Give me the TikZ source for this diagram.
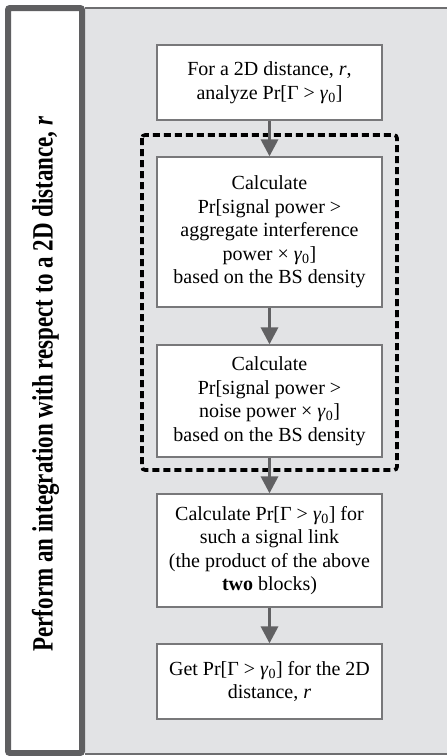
\documentclass[tikz,border=0pt]{standalone}
\usepackage{fontspec}
\setmainfont{Liberation Serif}
\usetikzlibrary{arrows.meta}
\definecolor{panelgray}{RGB}{226,227,229}
\definecolor{framegray}{RGB}{110,110,112}
\definecolor{darkframe}{RGB}{95,95,97}
\definecolor{boxgray}{RGB}{120,120,122}
\definecolor{arrowgray}{RGB}{97,97,99}
\newcommand{\gz}{\textit{γ}\textsubscript{0}}
\begin{document}
\begin{tikzpicture}[x=1pt,y=-1pt,
  stepbox/.style={draw=boxgray, line width=1.3pt, fill=white, minimum width=225pt,
    align=center, inner sep=0pt, font=\fontsize{20}{23.5}\selectfont},
  flow/.style={draw=arrowgray, line width=3.3pt,
    -{Triangle[length=17pt,width=17pt]}}]
  \useasboundingbox (0,0) rectangle (447,756);
  \fill[white] (0,0) rectangle (447,756);
  % shaded working area
  \fill[panelgray] (85,8) rectangle (447,754);
  \draw[framegray, line width=2pt] (85,8) -- (447,8);
  \draw[framegray, line width=1.5pt] (85,754) -- (447,754);
  % side panel with the rotated heading
  \draw[darkframe, line width=6pt, rounded corners=2pt] (8,8) rectangle (82,753);
  \node[rotate=90, font=\bfseries\fontsize{23}{26}\selectfont] (title) at (45.5,384)
    {\scalebox{1}[1.28]{Perform an integration with respect to a 2D distance, \textit{r}}};
  % flow steps
  \node[stepbox, minimum height=75pt] (b1) at (269.5,82.5)
    {For a 2D distance, \textit{r},\\ analyze Pr[Γ > \gz]};
  \node[stepbox, minimum height=150pt] (b2) at (269.5,232)
    {Calculate\\ Pr[signal power >\\ aggregate interference\\ power × \gz]\\ based on the BS density};
  \node[stepbox, minimum height=112pt] (b3) at (269.5,401)
    {Calculate\\ Pr[signal power >\\ noise power × \gz]\\ based on the BS density};
  \node[stepbox, minimum height=113pt] (b4) at (269.5,550.5)
    {Calculate Pr[Γ > \gz] for\\ such a signal link\\ (the product of the above\\ \textbf{two} blocks)};
  \node[stepbox, minimum height=75pt] (b5) at (269.5,681.5)
    {Get Pr[Γ > \gz] for the 2D\\ distance, \textit{r}};
  % dashed grouping of the two density steps
  \draw[black, line width=3.6pt, dash pattern=on 7pt off 4pt, rounded corners=3pt]
    (142,135) rectangle (397,470);
  % connectors
  \draw[flow] (b1.south) -- (b2.north);
  \draw[flow] (b2.south) -- (b3.north);
  \draw[flow] (b3.south) -- (b4.north);
  \draw[flow] (b4.south) -- (b5.north);
\end{tikzpicture}
\end{document}
